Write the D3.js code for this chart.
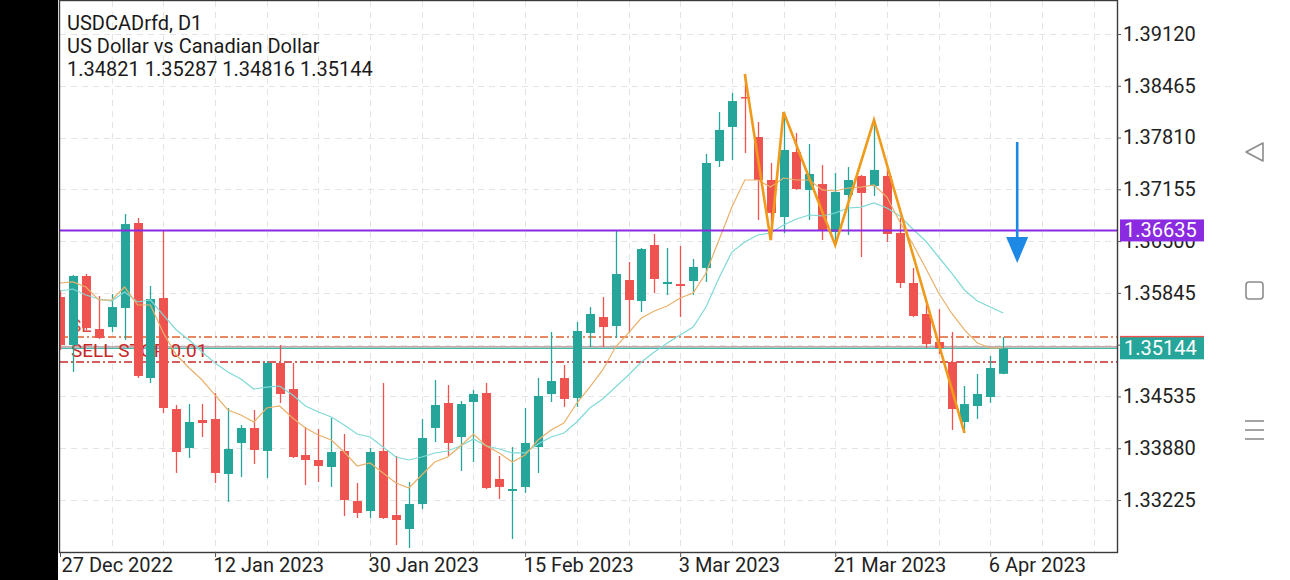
<!DOCTYPE html>
<html>
<head>
<meta charset="utf-8">
<script src="https://cdn.jsdelivr.net/npm/d3@7"></script>
<style>
  html, body { margin: 0; padding: 0; background: #fff; }
  svg { display: block; font-family: Roboto, "Noto Sans", sans-serif; }
</style>
</head>
<body>
<svg id="chart" width="1290" height="580"></svg>
<script>
"use strict";

// ==========  Data  ==========
var headerLines = ["USDCADrfd, D1", "US Dollar vs Canadian Dollar", "1.34821 1.35287 1.34816 1.35144"]

var dates = [
  "2022-12-27","2022-12-28","2022-12-29","2022-12-30",
  "2023-01-02","2023-01-03","2023-01-04","2023-01-05","2023-01-06","2023-01-09","2023-01-10","2023-01-11",
  "2023-01-12","2023-01-13","2023-01-16","2023-01-17","2023-01-18","2023-01-19","2023-01-20","2023-01-23",
  "2023-01-24","2023-01-25","2023-01-26","2023-01-27","2023-01-30","2023-01-31",
  "2023-02-01","2023-02-02","2023-02-03","2023-02-06","2023-02-07","2023-02-08","2023-02-09","2023-02-10",
  "2023-02-13","2023-02-14","2023-02-15","2023-02-16","2023-02-17","2023-02-20","2023-02-21","2023-02-22",
  "2023-02-23","2023-02-24","2023-02-27","2023-02-28",
  "2023-03-01","2023-03-02","2023-03-03","2023-03-06","2023-03-07","2023-03-08","2023-03-09","2023-03-10",
  "2023-03-13","2023-03-14","2023-03-15","2023-03-16","2023-03-17","2023-03-20","2023-03-21","2023-03-22",
  "2023-03-23","2023-03-24","2023-03-27","2023-03-28","2023-03-29","2023-03-30","2023-03-31",
  "2023-04-03","2023-04-04","2023-04-05","2023-04-06","2023-04-07"
]

var opens = [
  1.35793,1.35186,1.36059,1.35388,1.35413,1.35654,1.36729,1.34768,1.35780,1.34376,
  1.33883,1.34237,1.34250,1.33554,1.33946,1.34136,1.33845,1.34958,1.34629,1.33794,
  1.33731,1.33642,1.33845,1.33212,1.33086,1.33845,1.33035,1.32858,1.33174,1.34136,
  1.34452,1.34022,1.34465,1.34579,1.33491,1.33339,1.33390,1.33895,1.34566,1.34768,
  1.34515,1.35338,1.35540,1.35426,1.36008,1.35742,1.36451,1.35957,1.35957,1.35995,
  1.36160,1.37513,1.37944,1.38323,1.37817,1.37273,1.36805,1.37627,1.37147,1.37222,
  1.36615,1.37083,1.37324,1.37197,1.37324,1.36603,1.35970,1.35578,1.35224,1.34971,
  1.34212,1.34414,1.34528,1.34821
]
var highs = [
  1.35882,1.36071,1.36084,1.35806,1.35831,1.36843,1.36792,1.35932,1.36628,1.34427,
  1.34439,1.34439,1.34579,1.34389,1.34174,1.34364,1.34983,1.35186,1.34958,1.34149,
  1.34123,1.34262,1.34060,1.33440,1.33883,1.34705,1.33782,1.33453,1.34250,1.34743,
  1.34680,1.34477,1.34617,1.34705,1.33782,1.33895,1.34389,1.34768,1.35350,1.34933,
  1.35477,1.35666,1.35793,1.36628,1.36236,1.36413,1.36590,1.36413,1.36438,1.36274,
  1.37602,1.38133,1.38374,1.38614,1.38007,1.37488,1.38133,1.37868,1.37728,1.37463,
  1.37362,1.37437,1.37336,1.38032,1.37425,1.36792,1.36160,1.35704,1.35641,1.35350,
  1.34667,1.34819,1.35047,1.35287
]
var lows = [
  1.35123,1.34844,1.35376,1.35262,1.35350,1.35249,1.34768,1.34705,1.34326,1.33567,
  1.33756,1.34022,1.33440,1.33200,1.33516,1.33680,1.33503,1.34452,1.33756,1.33415,
  1.33453,1.33390,1.33023,1.32997,1.32997,1.32985,1.32656,1.32618,1.33111,1.33959,
  1.33782,1.33592,1.33706,1.33364,1.33238,1.32732,1.33314,1.33567,1.34465,1.34402,
  1.34402,1.35160,1.35160,1.35274,1.35338,1.35603,1.35844,1.35818,1.35540,1.35818,
  1.35983,1.37437,1.37526,1.37615,1.36767,1.36514,1.36603,1.37147,1.36767,1.36514,
  1.36451,1.36577,1.36299,1.37071,1.36489,1.35907,1.35540,1.35148,1.35072,1.34111,
  1.34073,1.34250,1.34452,1.34816
]
var closes = [
  1.35186,1.36059,1.35401,1.35274,1.35666,1.36716,1.34794,1.35768,1.34389,1.33832,
  1.34212,1.34199,1.33567,1.33870,1.34136,1.33858,1.34958,1.34566,1.33769,1.33731,
  1.33655,1.33832,1.33225,1.33061,1.33832,1.32997,1.32972,1.33174,1.34009,1.34427,
  1.33946,1.34439,1.34566,1.33377,1.33390,1.33364,1.33946,1.34541,1.34730,1.34503,
  1.35363,1.35578,1.35413,1.36084,1.35755,1.36400,1.36021,1.35983,1.35932,1.36173,
  1.37488,1.37906,1.38272,1.38310,1.37273,1.36856,1.37653,1.37159,1.37349,1.36641,
  1.37121,1.37273,1.37109,1.37400,1.36590,1.35970,1.35553,1.35198,1.35148,1.34376,
  1.34439,1.34566,1.34895,1.35144
]

// moving averages
var maFast = [
  1.35970,1.35983,1.35920,1.35755,1.35755,1.35920,1.35692,1.35692,1.35338,1.35059,
  1.34895,1.34743,1.34553,1.34364,1.34300,1.34212,1.34389,1.34414,1.34262,1.34136,
  1.34047,1.33984,1.33832,1.33655,1.33693,1.33567,1.33440,1.33377,1.33541,1.33706,
  1.33769,1.33908,1.34060,1.33908,1.33820,1.33706,1.33794,1.33984,1.34111,1.34199,
  1.34452,1.34654,1.34870,1.35160,1.35338,1.35527,1.35616,1.35679,1.35780,1.35844,
  1.36097,1.36514,1.36931,1.37273,1.37273,1.37184,1.37298,1.37273,1.37273,1.37147,
  1.37134,1.37172,1.37184,1.37210,1.37058,1.36742,1.36463,1.36160,1.35844,1.35591,
  1.35376,1.35211,1.35148,1.35148
]
var maSlow = [
  1.35869,1.35894,1.35818,1.35768,1.35742,1.35856,1.35730,1.35755,1.35565,1.35376,
  1.35249,1.35097,1.34958,1.34844,1.34756,1.34629,1.34654,1.34667,1.34553,1.34414,
  1.34338,1.34275,1.34174,1.34060,1.34022,1.33895,1.33769,1.33731,1.33769,1.33820,
  1.33845,1.33908,1.33997,1.33908,1.33870,1.33820,1.33820,1.33933,1.34022,1.34073,
  1.34212,1.34389,1.34503,1.34654,1.34806,1.34971,1.35097,1.35211,1.35312,1.35413,
  1.35666,1.36033,1.36362,1.36489,1.36577,1.36603,1.36704,1.36780,1.36830,1.36818,
  1.36856,1.36919,1.36931,1.36982,1.36919,1.36818,1.36653,1.36501,1.36299,1.36097,
  1.35882,1.35742,1.35666,1.35591
]

// zigzag drawn over the March swings
var zigzagDates  = ["2023-03-10","2023-03-14","2023-03-15","2023-03-21","2023-03-24","2023-04-04"]
var zigzagPrices = [1.38614, 1.36514, 1.38133, 1.36451, 1.38032, 1.34073]

var priceTicks = [1.39120,1.38465,1.37810,1.37155,1.36500,1.35845,1.35190,1.34535,1.33880,1.33225]
var dateTicks  = ["2022-12-27","2023-01-12","2023-01-30","2023-02-15","2023-03-03","2023-03-21","2023-04-06"]

var levelPrice     = 1.36635
var slPrice        = 1.35287
var sellStopPrice  = 1.34971
var bidPrice       = 1.35144
var askPrice       = 1.35162
var arrowFrom      = 1.37754
var arrowTo        = 1.36223

// ==========  Layout  ==========
var plotLeft = 60, plotRight = 1117, plotTop = 1, plotBottom = 552
var svg = d3.select('#chart')

var xScale = d3.scaleLinear().domain([0, dates.length - 1]).range([60, 1003.2])
var yScale = d3.scaleLinear().domain([1.33225, 1.39120]).range([500, 34])
var indexOf = function(date) { return dates.indexOf(date) }
var fmtPrice = d3.format('.5f')

svg.append('rect').attr('x', 0).attr('y', 0).attr('width', 1290).attr('height', 580).attr('fill', '#fff')
svg.append('rect').attr('x', 0).attr('y', 0).attr('width', 58).attr('height', 580).attr('fill', '#000')

svg.append('clipPath').attr('id', 'plotClip')
   .append('rect').attr('x', plotLeft).attr('y', plotTop)
   .attr('width', plotRight - plotLeft).attr('height', plotBottom - plotTop)

var plot = svg.append('g').attr('clip-path', 'url(#plotClip)')

// ==========  Grid  ==========
var gridIdx = d3.range(4, 84, 4)
plot.selectAll('line.vgrid').data(gridIdx).join('line')
    .attr('x1', function(d) { return Math.round(xScale(d)) + 0.5 })
    .attr('x2', function(d) { return Math.round(xScale(d)) + 0.5 })
    .attr('y1', plotTop).attr('y2', plotBottom)
    .attr('stroke', '#e4e4e4').attr('stroke-dasharray', '6,5')
plot.selectAll('line.hgrid').data(priceTicks).join('line')
    .attr('x1', plotLeft).attr('x2', plotRight)
    .attr('y1', function(d) { return Math.round(yScale(d)) + 0.5 })
    .attr('y2', function(d) { return Math.round(yScale(d)) + 0.5 })
    .attr('stroke', '#e4e4e4').attr('stroke-dasharray', '6,5')

// ==========  Trade levels (behind the candles)  ==========
var hline = function(price, color, dash, width) {
  plot.append('line')
      .attr('x1', plotLeft).attr('x2', plotRight)
      .attr('y1', yScale(price)).attr('y2', yScale(price))
      .attr('stroke', color).attr('stroke-width', width || 1)
      .attr('stroke-dasharray', dash || null)
}
hline(slPrice, '#e0622e', '8,3,2,3', 1.3)
hline(sellStopPrice, '#c62828', '8,3,2,3', 1.3)
hline(askPrice, '#b98c8c', null, 1.2)
hline(bidPrice, '#46b8b0', null, 1.2)

plot.append('text').attr('x', 70).attr('y', yScale(slPrice) - 5)
    .attr('font-size', 19).attr('fill', '#d8473a').text('SL')
plot.append('text').attr('x', 71).attr('y', yScale(sellStopPrice) - 5)
    .attr('font-size', 19).attr('fill', '#c62828').text('SELL STOP 0.01')

// ==========  Candles  ==========
var bars = dates.map(function(d, i) {
  return { i: i, o: opens[i], h: highs[i], l: lows[i], c: closes[i] }
})
var candleColor = function(d) { return d.c >= d.o ? '#26a69a' : '#ef5350' }

plot.selectAll('line.wick').data(bars).join('line')
    .attr('x1', function(d) { return Math.round(xScale(d.i)) + 0.5 })
    .attr('x2', function(d) { return Math.round(xScale(d.i)) + 0.5 })
    .attr('y1', function(d) { return yScale(d.h) })
    .attr('y2', function(d) { return yScale(d.l) })
    .attr('stroke', candleColor).attr('stroke-width', 1.3)
plot.selectAll('rect.body').data(bars).join('rect')
    .attr('x', function(d) { return Math.round(xScale(d.i)) - 4 })
    .attr('width', 9)
    .attr('y', function(d) { return yScale(Math.max(d.o, d.c)) })
    .attr('height', function(d) { return Math.max(1.5, Math.abs(yScale(d.o) - yScale(d.c))) })
    .attr('fill', candleColor)

// ==========  Indicators and objects  ==========
var maLine = d3.line().x(function(d, i) { return xScale(i) }).y(function(d) { return yScale(d) })
plot.append('path').attr('d', maLine(maSlow)).attr('fill', 'none')
    .attr('stroke', '#7fd9d6').attr('stroke-width', 1.2)
plot.append('path').attr('d', maLine(maFast)).attr('fill', 'none')
    .attr('stroke', '#e9b06a').attr('stroke-width', 1.2)

hline(levelPrice, '#8a2be2', null, 2)

var zz = zigzagDates.map(function(d, i) { return [xScale(indexOf(d)), yScale(zigzagPrices[i])] })
plot.append('path').attr('d', d3.line()(zz)).attr('fill', 'none')
    .attr('stroke', '#ef9a1a').attr('stroke-width', 2.6).attr('stroke-linejoin', 'miter')

// sell arrow to the right of the last bar
var arrowX = xScale(dates.length - 1) + 14
plot.append('line').attr('x1', arrowX).attr('x2', arrowX)
    .attr('y1', yScale(arrowFrom)).attr('y2', yScale(arrowTo) - 20)
    .attr('stroke', '#1e88e5').attr('stroke-width', 2.6)
plot.append('path')
    .attr('d', 'M' + (arrowX - 11) + ',' + (yScale(arrowTo) - 26) +
               'L' + (arrowX + 11) + ',' + (yScale(arrowTo) - 26) +
               'L' + arrowX + ',' + yScale(arrowTo) + 'Z')
    .attr('fill', '#1e88e5')

// ==========  Frame and axes  ==========
svg.append('rect').attr('x', plotLeft - 0.5).attr('y', plotTop - 0.5)
   .attr('width', plotRight - plotLeft + 1).attr('height', plotBottom - plotTop + 1)
   .attr('fill', 'none').attr('stroke', '#3a3a3a').attr('stroke-width', 1.4)

// the tick that sits fully under the bid/ask labels gets no text
var hiddenTick = function(d) { return Math.abs(d - bidPrice) < 0.0008 }
var yAxis = svg.append('g').attr('transform', 'translate(' + plotRight + ',0)')
    .call(d3.axisRight(yScale).tickValues(priceTicks)
      .tickFormat(function(d) { return hiddenTick(d) ? '' : fmtPrice(d) }).tickSize(4).tickPadding(2))
yAxis.select('.domain').remove()
yAxis.selectAll('line').attr('stroke', '#555')
yAxis.selectAll('text').attr('font-size', 20).attr('fill', '#222').attr('font-family', 'Roboto')

var fmtDate = d3.timeFormat('%-d %b %Y')
var parseDate = d3.timeParse('%Y-%m-%d')
var xAxis = svg.append('g').attr('transform', 'translate(0,' + plotBottom + ')')
    .call(d3.axisBottom(xScale).tickValues(dateTicks.map(indexOf))
      .tickFormat(function(d) { return fmtDate(parseDate(dates[d])) }).tickSize(5))
xAxis.select('.domain').remove()
xAxis.selectAll('line').attr('stroke', '#555')
xAxis.selectAll('text').attr('font-size', 20).attr('fill', '#222').attr('font-family', 'Roboto')
     .attr('text-anchor', 'start').attr('y', 6)
     .attr('x', function(d) { return d === 0 ? 1 : -2 })

// price labels on the axis
var priceBox = function(price, color) {
  var g = svg.append('g').attr('transform', 'translate(1120,' + yScale(price) + ')')
  g.append('rect').attr('x', 0).attr('y', -11).attr('width', 84).attr('height', 22).attr('fill', color)
  g.append('text').attr('x', 4).attr('y', 7).attr('font-size', 20).attr('fill', '#fff').text(fmtPrice(price))
}
priceBox(levelPrice, '#8a2be2')
priceBox(askPrice, '#ef5350')
priceBox(bidPrice, '#26a69a')

// ==========  Header  ==========
svg.selectAll('text.header').data(headerLines).join('text')
   .attr('x', 67).attr('y', function(d, i) { return 30 + i * 23 })
   .attr('font-size', 20).attr('fill', '#1a1a1a').text(function(d) { return d })

// ==========  Phone navigation bar  ==========
var nav = svg.append('g').attr('stroke', '#8c8c8c').attr('stroke-width', 1.6).attr('fill', 'none')
nav.append('path').attr('d', 'M1263,143 L1263,161 L1246,152 Z').attr('stroke-linejoin', 'round')
nav.append('rect').attr('x', 1246).attr('y', 282).attr('width', 17).attr('height', 17).attr('rx', 3)
nav.selectAll('line.menu').data([421, 430, 439]).join('line')
   .attr('x1', 1245).attr('x2', 1264).attr('y1', function(d) { return d }).attr('y2', function(d) { return d })
</script>
</body>
</html>
